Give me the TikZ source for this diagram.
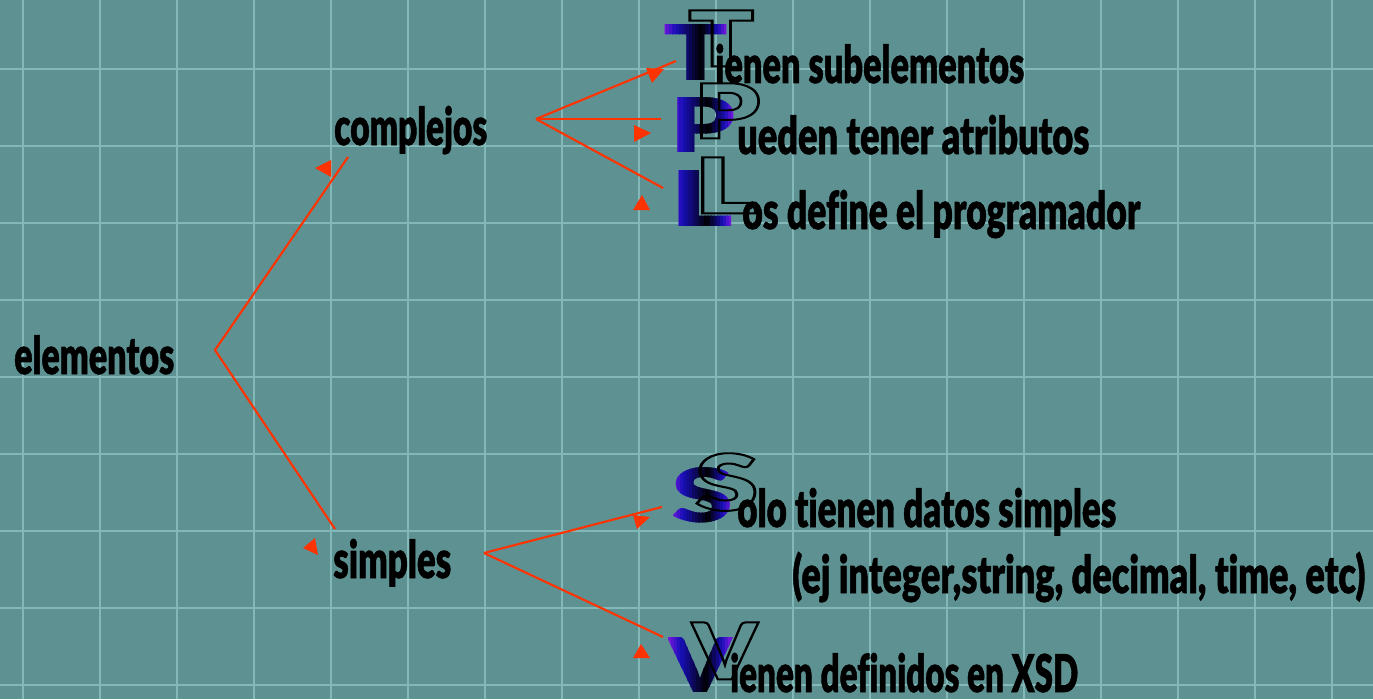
\documentclass[tikz,border=0pt]{standalone}
\usepackage{fontspec}
\usepackage{graphicx}
\newfontfamily\heavyfam{Lato Black}[Ligatures=NoCommon]
\newfontfamily\txtfam{Lato Black}[Ligatures=NoCommon, FakeBold=1.2]
\newdimen\pxu \pxu=0.75pt
\definecolor{bg}{RGB}{94,146,146}
\definecolor{gridc}{RGB}{130,184,184}
\definecolor{lred}{RGB}{255,51,0}
\definecolor{purp}{RGB}{125,25,225}
\definecolor{blu}{RGB}{25,15,185}
\newcommand\txtfont{\txtfam\fontsize{39}{40}\selectfont}
\newcommand\bigfont{\heavyfam\fontsize{58}{60}\selectfont}
\newcommand\fitw[2]{\resizebox{#1\pxu}{\height}{#2}}
\newcommand\outl[1]{\special{pdf:literal direct 1 Tr 1.5 w}#1\special{pdf:literal direct 0 Tr}}
\def\gradlist{0/purp!88!blu,1/purp!62!blu,2/purp!38!blu,3/purp!12!blu,4/black!6!blu,5/black!19!blu,6/black!31!blu,7/black!44!blu,8/black!56!blu,9/black!69!blu,10/black!81!blu,11/black!94!blu,12/blu!10!black,13/blu!30!black,14/blu!50!black,15/blu!70!black,16/blu!90!black,17/purp!17!blu,18/purp!50!blu,19/purp!83!blu}
\newcommand\gradletter[6]{%
  \foreach \i/\gc in \gradlist {%
    \begin{scope}
      \clip ({#2+\i*#4/20},{#3-4}) rectangle ({#2+(\i+1)*#4/20+0.4},{#3+#5+4});
      \node[inner sep=0, anchor=north west, text=\gc] (#1\i) at (#2,#3) {\resizebox{#4\pxu}{#5\pxu}{\bigfont #6}};
    \end{scope}
  }%
}
\newcommand\outletter[6]{%
  \node[inner sep=0, anchor=north west] (#1) at (#2,#3) {\resizebox{#4\pxu}{#5\pxu}{\outl{\bigfont #6}}};%
}
\tikzset{
  lbl/.style={inner sep=0, anchor=base west, font=\txtfont, text=black},
  redline/.style={draw=lred, line width=1.6},
  tri/.style={fill=lred},
  gridl/.style={draw=gridc, line width=2},
}
\begin{document}
\begin{tikzpicture}[x=0.75pt, y=-0.75pt]
\useasboundingbox (0,0) rectangle (1373,699);
\fill[bg] (0,0) rectangle (1373,699);
\foreach \x in {23,100,...,1332} \draw[gridl] (\x,0) -- (\x,699);
\foreach \y in {69,146,...,685} \draw[gridl] (0,\y) -- (1373,\y);

% big gradient letters
\gradletter{gT}{663}{24}{65}{56}{T}
\gradletter{gP}{670}{97}{65}{55}{P}
\gradletter{gL}{670}{170}{63}{56}{L}
\gradletter{gS}{671}{467}{62}{55}{S}
\gradletter{gV}{668}{637}{64}{55}{V}
% outline letters
\outletter{oT}{688}{10}{66}{56}{T}
\outletter{oP}{694}{83}{66}{55}{P}
\outletter{oL}{694}{157}{63}{56}{L}
\outletter{oS}{695}{453}{63}{57}{S}
\outletter{oV}{692}{622}{65}{57}{V}

% labels
\node[lbl] (elem) at (14,374) {\fitw{160}{elementos}};
\node[lbl] (comp) at (334,145) {\fitw{153}{complejos}};
\node[lbl] (simp) at (333,578) {\fitw{118}{simples}};
\node[lbl] (tT) at (715,83) {\fitw{309}{ienen subelementos}};
\node[lbl] (tP) at (737,154) {\fitw{352}{ueden tener atributos}};
\node[lbl] (tL) at (742,229) {\fitw{398}{os define el programador}};
\node[lbl] (tS) at (737,527) {\fitw{379}{olo tienen datos simples}};
\node[lbl] (tE) at (792,593) {\fitw{573}{(ej integer,string, decimal, time, etc)}};
\node[lbl] (tV) at (730,692) {\fitw{348}{ienen definidos en XSD}};

% connector points
\coordinate (vE) at (215,350);
\coordinate (cC) at (348,157);
\coordinate (cS) at (335,529);
\coordinate (vC) at (536,119);
\coordinate (eT) at (676,61);
\coordinate (eP) at (661,119);
\coordinate (eL) at (663,188);
\coordinate (vS) at (484,553);
\coordinate (eS) at (662,507);
\coordinate (eV) at (663,637);
\draw[redline] (cC) -- (vE) -- (cS);
\draw[redline] (vC) -- (eT);
\draw[redline] (vC) -- (eP);
\draw[redline] (vC) -- (eL);
\draw[redline] (vS) -- (eS);
\draw[redline] (vS) -- (eV);

% arrowheads
\fill[tri] (315,168) -- (331,160) -- (331,177) -- cycle;
\fill[tri] (303,548) -- (315,538) -- (318,555) -- cycle;
\fill[tri] (646,68) -- (664,69) -- (652,83) -- cycle;
\fill[tri] (634,125) -- (651,133) -- (634,142) -- cycle;
\fill[tri] (633,210) -- (642,195) -- (650,210) -- cycle;
\fill[tri] (633,515) -- (650,517) -- (637,529) -- cycle;
\fill[tri] (633,658) -- (641,644) -- (650,658) -- cycle;
\end{tikzpicture}
\end{document}
